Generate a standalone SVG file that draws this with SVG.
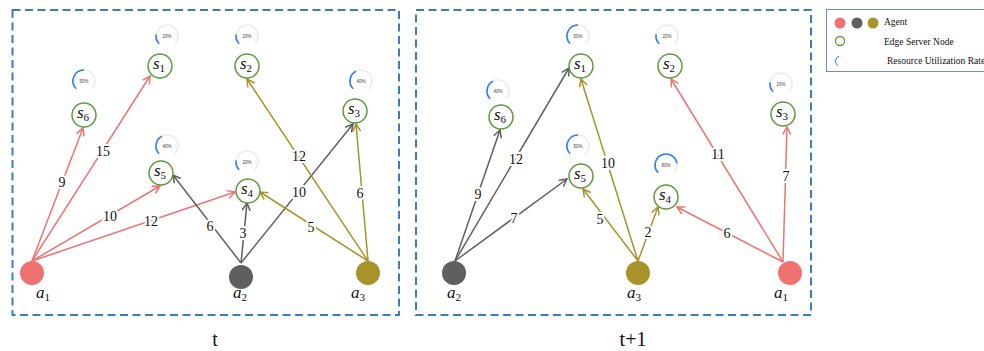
<svg xmlns="http://www.w3.org/2000/svg" width="984" height="351" viewBox="0 0 984 351">
<style>
.frame{fill:none;stroke:#3a7dbf;stroke-width:2;stroke-dasharray:8 4.5}
.srv{fill:#fff;stroke:#5c9a3c;stroke-width:1.5}
.slab{font-family:"Liberation Serif",serif;font-size:17px;fill:#111}
.sub{font-size:11px;font-style:normal}
.trk{fill:none;stroke:#ececec;stroke-width:1.6}
.arc{fill:none;stroke:#2d7ff0;stroke-width:1.6}
.pct{font-family:"Liberation Sans",sans-serif;font-size:4.5px;fill:#444;text-anchor:middle}
.e{fill:none;stroke-width:1.5}
.red{stroke:#ee7370}
.gry{stroke:#5f5f5f}
.olv{stroke:#a8922a}
.el{font-family:"Liberation Serif",serif;font-size:14px;fill:#111;text-anchor:middle;stroke:#fff;stroke-width:4;paint-order:stroke}
.alab{font-family:"Liberation Serif",serif;font-size:17px;fill:#111;font-style:italic}
.cap{font-family:"Liberation Serif",serif;font-size:20px;fill:#111;text-anchor:middle}
.leg{font-family:"Liberation Serif",serif;font-size:9.5px;fill:#111}
</style>
<defs>
<marker id="mr" markerUnits="userSpaceOnUse" markerWidth="12" markerHeight="12" refX="8" refY="4.5" orient="auto"><path d="M0.5,0.5 L8,4.5 L0.5,8.5" fill="none" stroke="#ee7370" stroke-width="1.5"/></marker>
<marker id="mg" markerUnits="userSpaceOnUse" markerWidth="12" markerHeight="12" refX="8" refY="4.5" orient="auto"><path d="M0.5,0.5 L8,4.5 L0.5,8.5" fill="none" stroke="#5f5f5f" stroke-width="1.5"/></marker>
<marker id="mo" markerUnits="userSpaceOnUse" markerWidth="12" markerHeight="12" refX="8" refY="4.5" orient="auto"><path d="M0.5,0.5 L8,4.5 L0.5,8.5" fill="none" stroke="#a8922a" stroke-width="1.5"/></marker>
</defs>

<rect class="frame" x="12.5" y="10" width="386.5" height="305"/>
<rect class="frame" x="416" y="10" width="395" height="305"/>

<g id="connectors">
<!-- left panel -->
<line class="e red" x1="32" y1="261" x2="83" y2="128" marker-end="url(#mr)"/>
<line class="e red" x1="32" y1="261" x2="150" y2="76" marker-end="url(#mr)"/>
<line class="e red" x1="32" y1="261" x2="160" y2="186" marker-end="url(#mr)"/>
<line class="e red" x1="32" y1="261" x2="235" y2="192" marker-end="url(#mr)"/>
<line class="e gry" x1="241" y1="263" x2="173" y2="175" marker-end="url(#mg)"/>
<line class="e gry" x1="241" y1="263" x2="247" y2="203" marker-end="url(#mg)"/>
<line class="e gry" x1="241" y1="263" x2="353" y2="124" marker-end="url(#mg)"/>
<line class="e olv" x1="368" y1="261" x2="247" y2="79" marker-end="url(#mo)"/>
<line class="e olv" x1="368" y1="261" x2="356" y2="124" marker-end="url(#mo)"/>
<line class="e olv" x1="368" y1="261" x2="260" y2="192" marker-end="url(#mo)"/>
<text class="el" x="62" y="187">9</text>
<text class="el" x="103" y="156">15</text>
<text class="el" x="110" y="221">10</text>
<text class="el" x="151" y="226">12</text>
<text class="el" x="210" y="231">6</text>
<text class="el" x="243" y="238">3</text>
<text class="el" x="299" y="197">10</text>
<text class="el" x="299" y="161">12</text>
<text class="el" x="360" y="198">6</text>
<text class="el" x="311" y="232">5</text>
<!-- right panel -->
<line class="e gry" x1="455" y1="261" x2="500" y2="130" marker-end="url(#mg)"/>
<line class="e gry" x1="455" y1="261" x2="569" y2="68" marker-end="url(#mg)"/>
<line class="e gry" x1="455" y1="261" x2="567" y2="179" marker-end="url(#mg)"/>
<line class="e olv" x1="638" y1="261" x2="581" y2="79" marker-end="url(#mo)"/>
<line class="e olv" x1="638" y1="261" x2="583" y2="189" marker-end="url(#mo)"/>
<line class="e olv" x1="638" y1="261" x2="658" y2="207" marker-end="url(#mo)"/>
<line class="e red" x1="783" y1="262" x2="671" y2="79" marker-end="url(#mr)"/>
<line class="e red" x1="783" y1="262" x2="787" y2="127" marker-end="url(#mr)"/>
<line class="e red" x1="783" y1="262" x2="677" y2="207" marker-end="url(#mr)"/>
<text class="el" x="478" y="199">9</text>
<text class="el" x="516" y="164">12</text>
<text class="el" x="514" y="223">7</text>
<text class="el" x="608" y="168">10</text>
<text class="el" x="600" y="224">5</text>
<text class="el" x="648" y="237">2</text>
<text class="el" x="718" y="159">11</text>
<text class="el" x="786" y="181">7</text>
<text class="el" x="727" y="238">6</text>
</g>

<!-- left panel servers -->
<g id="L_s1">
<path class="trk" d="M159.2,43.8 A11,11 0 1 1 174.8,43.8"/>
<path class="arc" d="M159.2,43.8 A11,11 0 0 1 156.1,34.3"/>
<text class="pct" x="167" y="37.6">20%</text>
<circle class="srv" cx="160" cy="66" r="12"/>
<text class="slab" x="159" y="69" text-anchor="middle"><tspan font-style="italic">s</tspan><tspan class="sub" dy="2.5">1</tspan></text>
</g>
<g id="L_s2">
<path class="trk" d="M239.2,43.8 A11,11 0 1 1 254.8,43.8"/>
<path class="arc" d="M239.2,43.8 A11,11 0 0 1 236.1,34.3"/>
<text class="pct" x="247" y="37.6">20%</text>
<circle class="srv" cx="247" cy="66" r="12"/>
<text class="slab" x="246" y="69" text-anchor="middle"><tspan font-style="italic">s</tspan><tspan class="sub" dy="2.5">2</tspan></text>
</g>
<g id="L_s6">
<path class="trk" d="M76.2,88.8 A11,11 0 1 1 91.8,88.8"/>
<path class="arc" d="M76.2,88.8 A11,11 0 0 1 84,70"/>
<text class="pct" x="84" y="82.6">50%</text>
<circle class="srv" cx="84" cy="115" r="12"/>
<text class="slab" x="83" y="118" text-anchor="middle"><tspan font-style="italic">s</tspan><tspan class="sub" dy="2.5">6</tspan></text>
</g>
<g id="L_s3">
<path class="trk" d="M353.2,88.8 A11,11 0 1 1 368.8,88.8"/>
<path class="arc" d="M353.2,88.8 A11,11 0 0 1 356,71.2"/>
<text class="pct" x="361" y="82.6">40%</text>
<circle class="srv" cx="355" cy="111" r="12"/>
<text class="slab" x="354" y="114" text-anchor="middle"><tspan font-style="italic">s</tspan><tspan class="sub" dy="2.5">3</tspan></text>
</g>
<g id="L_s5">
<path class="trk" d="M159.2,153.8 A11,11 0 1 1 174.8,153.8"/>
<path class="arc" d="M159.2,153.8 A11,11 0 0 1 162,136.2"/>
<text class="pct" x="167" y="147.6">40%</text>
<circle class="srv" cx="161" cy="173" r="12"/>
<text class="slab" x="160" y="176" text-anchor="middle"><tspan font-style="italic">s</tspan><tspan class="sub" dy="2.5">5</tspan></text>
</g>
<g id="L_s4">
<path class="trk" d="M239.2,169.8 A11,11 0 1 1 254.8,169.8"/>
<path class="arc" d="M239.2,169.8 A11,11 0 0 1 236.1,160.3"/>
<text class="pct" x="247" y="163.6">20%</text>
<circle class="srv" cx="248" cy="191" r="12"/>
<text class="slab" x="247" y="194" text-anchor="middle"><tspan font-style="italic">s</tspan><tspan class="sub" dy="2.5">4</tspan></text>
</g>

<!-- left panel agents -->
<g id="L_a1"><circle cx="32" cy="273" r="12" fill="#ee7370"/><text class="alab" x="36" y="298">a<tspan class="sub" dy="2.5">1</tspan></text></g>
<g id="L_a2"><circle cx="241" cy="277" r="12" fill="#5f5f5f"/><text class="alab" x="233" y="298">a<tspan class="sub" dy="2.5">2</tspan></text></g>
<g id="L_a3"><circle cx="368" cy="273" r="12" fill="#a8922a"/><text class="alab" x="351" y="298">a<tspan class="sub" dy="2.5">3</tspan></text></g>
<text class="cap" x="215" y="346">t</text>

<!-- right panel servers -->
<g id="R_s1">
<path class="trk" d="M570.2,43.8 A11,11 0 1 1 585.8,43.8"/>
<path class="arc" d="M570.2,43.8 A11,11 0 0 1 578,25"/>
<text class="pct" x="578" y="37.6">50%</text>
<circle class="srv" cx="581" cy="66" r="12"/>
<text class="slab" x="580" y="69" text-anchor="middle"><tspan font-style="italic">s</tspan><tspan class="sub" dy="2.5">1</tspan></text>
</g>
<g id="R_s2">
<path class="trk" d="M659.2,43.8 A11,11 0 1 1 674.8,43.8"/>
<path class="arc" d="M659.2,43.8 A11,11 0 0 1 656.1,34.3"/>
<text class="pct" x="667" y="37.6">20%</text>
<circle class="srv" cx="670" cy="66" r="12"/>
<text class="slab" x="669" y="69" text-anchor="middle"><tspan font-style="italic">s</tspan><tspan class="sub" dy="2.5">2</tspan></text>
</g>
<g id="R_s6">
<path class="trk" d="M490.2,98.8 A11,11 0 1 1 505.8,98.8"/>
<path class="arc" d="M490.2,98.8 A11,11 0 0 1 493,81.2"/>
<text class="pct" x="498" y="92.6">40%</text>
<circle class="srv" cx="501" cy="117" r="12"/>
<text class="slab" x="500" y="120" text-anchor="middle"><tspan font-style="italic">s</tspan><tspan class="sub" dy="2.5">6</tspan></text>
</g>
<g id="R_s3">
<path class="trk" d="M773.2,91.8 A11,11 0 1 1 788.8,91.8"/>
<path class="arc" d="M773.2,91.8 A11,11 0 0 1 770.1,82.3"/>
<text class="pct" x="781" y="85.6">20%</text>
<circle class="srv" cx="783" cy="114" r="12"/>
<text class="slab" x="782" y="117" text-anchor="middle"><tspan font-style="italic">s</tspan><tspan class="sub" dy="2.5">3</tspan></text>
</g>
<g id="R_s5">
<path class="trk" d="M570.2,153.8 A11,11 0 1 1 585.8,153.8"/>
<path class="arc" d="M570.2,153.8 A11,11 0 0 1 578,135"/>
<text class="pct" x="578" y="147.6">50%</text>
<circle class="srv" cx="581" cy="176" r="12"/>
<text class="slab" x="580" y="179" text-anchor="middle"><tspan font-style="italic">s</tspan><tspan class="sub" dy="2.5">5</tspan></text>
</g>
<g id="R_s4">
<path class="trk" d="M658.2,172.8 A11,11 0 1 1 673.8,172.8"/>
<path class="arc" d="M658.2,172.8 A11,11 0 1 1 676.9,163.3"/>
<text class="pct" x="666" y="166.6">80%</text>
<circle class="srv" cx="666" cy="197" r="12"/>
<text class="slab" x="665" y="200" text-anchor="middle"><tspan font-style="italic">s</tspan><tspan class="sub" dy="2.5">4</tspan></text>
</g>

<!-- right panel agents -->
<g id="R_a2"><circle cx="454" cy="273" r="12" fill="#5f5f5f"/><text class="alab" x="447" y="298">a<tspan class="sub" dy="2.5">2</tspan></text></g>
<g id="R_a3"><circle cx="638" cy="273" r="12" fill="#a8922a"/><text class="alab" x="627" y="298">a<tspan class="sub" dy="2.5">3</tspan></text></g>
<g id="R_a1"><circle cx="790" cy="273" r="12" fill="#ee7370"/><text class="alab" x="774" y="298">a<tspan class="sub" dy="2.5">1</tspan></text></g>
<text class="cap" x="633" y="346">t+1</text>

<!-- legend -->
<g id="legend">
<rect x="826.5" y="9.5" width="170" height="62" fill="#fff" stroke="#6f8fb8" stroke-width="1"/>
<circle cx="840" cy="23" r="5.5" fill="#ee7370"/>
<circle cx="857" cy="23" r="5.5" fill="#5f5f5f"/>
<circle cx="873" cy="23" r="5.5" fill="#a8922a"/>
<text class="leg" x="884" y="25">Agent</text>
<circle cx="840" cy="41" r="4.5" fill="none" stroke="#5c9a3c" stroke-width="1.3"/>
<text class="leg" x="884" y="45">Edge Server Node</text>
<circle cx="841" cy="61" r="5" fill="none" stroke="#f0f0f0" stroke-width="1"/>
<path d="M838,65.5 A5,5 0 0 1 839,56.3" fill="none" stroke="#2d7ff0" stroke-width="1"/>
<text class="leg" x="887" y="64">Resource Utilization Rate</text>
</g>
</svg>
